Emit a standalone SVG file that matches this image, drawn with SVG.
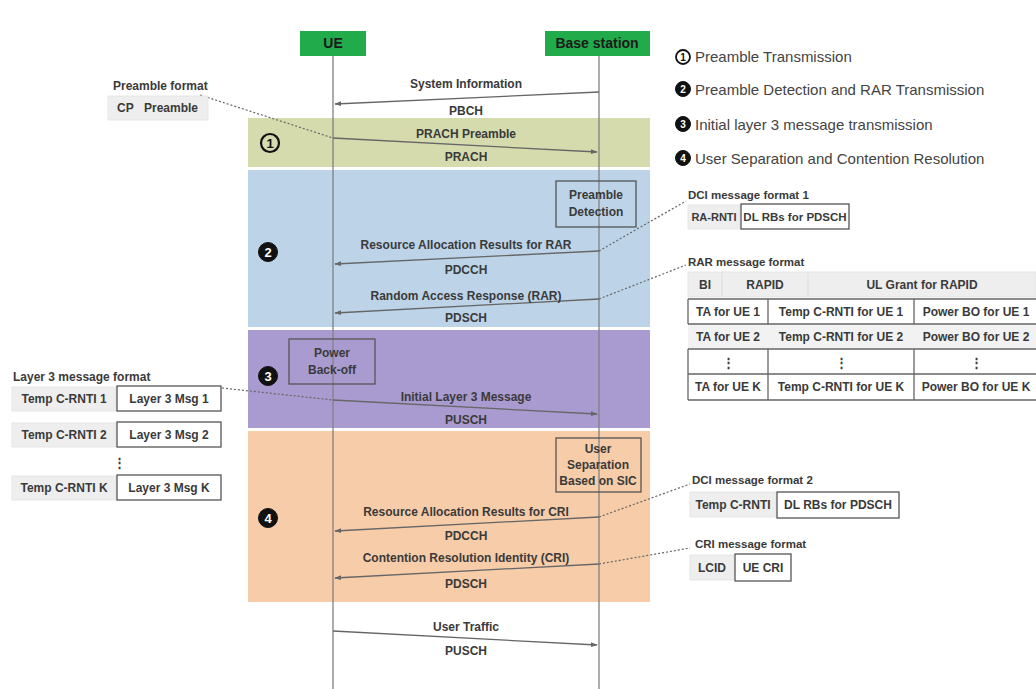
<svg xmlns="http://www.w3.org/2000/svg" width="1036" height="689" viewBox="0 0 1036 689">
<defs>
<marker id="ah" viewBox="0 0 10 10" refX="9" refY="5" markerWidth="7" markerHeight="7" orient="auto" markerUnits="userSpaceOnUse">
<path d="M0,1.5 L10,5 L0,8.5 z" fill="#666"/>
</marker>
<style>
text{font-family:"Liberation Sans",Arial,sans-serif;fill:#3a3a3a;}
.lb{font-size:12px;font-weight:bold;text-anchor:middle;}
.ll{font-size:12px;font-weight:bold;}
.leg{font-size:15px;fill:#444;}
.msg{stroke:#666;stroke-width:1.3;fill:none;marker-end:url(#ah);}
.dot{stroke:#666;stroke-width:1.2;fill:none;stroke-dasharray:2,2;}
.life{stroke:#808080;stroke-width:1.3;}
.gc{fill:#eeeeee;stroke:#e2e2e2;stroke-width:0.8;}
.bc{fill:#ffffff;stroke:#555;stroke-width:1.3;}
.proc{fill:none;stroke:#555;stroke-width:1.3;}
.cw{fill:none;stroke:#111;stroke-width:2.2;}
.cb{fill:#111;stroke:#111;stroke-width:1;}
.nw{font-size:13px;font-weight:bold;text-anchor:middle;fill:#111;}
.nb{font-size:13px;font-weight:bold;text-anchor:middle;fill:#fff;}
.hd{font-size:14px;font-weight:bold;text-anchor:middle;fill:#1a1a1a;}
</style>
</defs>
<rect width="1036" height="689" fill="#ffffff"/>

<g id="phases">
<rect x="248" y="118" width="402" height="49" fill="#d5dbad"/>
<rect x="248" y="170" width="402" height="157" fill="#bdd4e8"/>
<rect x="248" y="330" width="402" height="98" fill="#a99bcf"/>
<rect x="248" y="431" width="402" height="171" fill="#f7cca8"/>
<circle class="cw" cx="270" cy="143" r="9"/><text class="nw" x="270" y="148">1</text>
<circle class="cb" cx="268" cy="252" r="9.5"/><text class="nb" x="268" y="257">2</text>
<circle class="cb" cx="268" cy="376" r="9.5"/><text class="nb" x="268" y="381">3</text>
<circle class="cb" cx="268" cy="518" r="9.5"/><text class="nb" x="268" y="523">4</text>
</g>

<g id="ue">
<rect x="300" y="31" width="66" height="25" fill="#22ab4b"/>
<text class="hd" x="333" y="48">UE</text>
<line class="life" x1="333" y1="56" x2="333" y2="689"/>
</g>
<g id="bs">
<rect x="545" y="31" width="105" height="25" fill="#22ab4b"/>
<text class="hd" x="597" y="48">Base station</text>
<line class="life" x1="599" y1="56" x2="599" y2="689"/>
</g>

<g id="proc-detect">
<rect class="proc" x="556" y="181" width="80" height="46"/>
<text class="lb" x="596" y="199">Preamble</text>
<text class="lb" x="596" y="216">Detection</text>
</g>
<g id="proc-backoff">
<rect class="proc" x="289" y="339" width="86" height="45"/>
<text class="lb" x="332" y="357">Power</text>
<text class="lb" x="332" y="374">Back-off</text>
</g>
<g id="proc-sic">
<rect class="proc" x="556" y="438" width="85" height="54"/>
<text class="lb" x="598" y="453">User</text>
<text class="lb" x="598" y="469">Separation</text>
<text class="lb" x="598" y="485">Based on SIC</text>
</g>

<g id="connectors">
<path class="msg" d="M599,92 L335,104"/>
<path class="msg" d="M333,138 L597,152"/>
<path class="msg" d="M599,251 L335,264"/>
<path class="msg" d="M599,299 L335,313"/>
<path class="msg" d="M333,400 L597,414"/>
<path class="msg" d="M599,517 L335,531"/>
<path class="msg" d="M599,564 L335,578"/>
<path class="msg" d="M333,631 L597,645"/>
<path class="dot" d="M200,95 L333,138"/>
<path class="dot" d="M222,388 L333,400"/>
<path class="dot" d="M599,251 L686,201"/>
<path class="dot" d="M599,299 L686,265"/>
<path class="dot" d="M599,517 L690,484"/>
<path class="dot" d="M599,564 L690,548"/>
</g>

<g id="labels">
<text class="lb" x="466" y="88">System Information</text>
<text class="lb" x="466" y="115">PBCH</text>
<text class="lb" x="466" y="138">PRACH Preamble</text>
<text class="lb" x="466" y="161">PRACH</text>
<text class="lb" x="466" y="249">Resource Allocation Results for RAR</text>
<text class="lb" x="466" y="274">PDCCH</text>
<text class="lb" x="466" y="300">Random Access Response (RAR)</text>
<text class="lb" x="466" y="322">PDSCH</text>
<text class="lb" x="466" y="401">Initial Layer 3 Message</text>
<text class="lb" x="466" y="424">PUSCH</text>
<text class="lb" x="466" y="516">Resource Allocation Results for CRI</text>
<text class="lb" x="466" y="540">PDCCH</text>
<text class="lb" x="466" y="562">Contention Resolution Identity (CRI)</text>
<text class="lb" x="466" y="588">PDSCH</text>
<text class="lb" x="466" y="631">User Traffic</text>
<text class="lb" x="466" y="655">PUSCH</text>
</g>

<g id="legend">
<circle class="cw" cx="683" cy="57" r="7" style="stroke-width:1.8"/><text class="nw" x="683" y="61" style="font-size:10px">1</text>
<text class="leg" x="695" y="62">Preamble Transmission</text>
<circle class="cb" cx="683" cy="89" r="7.5"/><text class="nb" x="683" y="93" style="font-size:10px">2</text>
<text class="leg" x="695" y="95">Preamble Detection and RAR Transmission</text>
<circle class="cb" cx="683" cy="124" r="7.5"/><text class="nb" x="683" y="128" style="font-size:10px">3</text>
<text class="leg" x="695" y="130">Initial layer 3 message transmission</text>
<circle class="cb" cx="683" cy="158" r="7.5"/><text class="nb" x="683" y="162" style="font-size:10px">4</text>
<text class="leg" x="695" y="164">User Separation and Contention Resolution</text>
</g>

<g id="preamble-format">
<text class="ll" x="113" y="90">Preamble format</text>
<rect class="gc" x="108" y="96" width="100" height="24"/>
<text class="ll" x="117" y="112">CP</text>
<text class="ll" x="144" y="112">Preamble</text>
</g>

<g id="layer3-format">
<text class="ll" x="13" y="381">Layer 3 message format</text>
<rect class="gc" x="12" y="387" width="104" height="24"/>
<text class="lb" x="64" y="403">Temp C-RNTI 1</text>
<rect class="bc" x="117" y="386" width="104" height="25"/>
<text class="lb" x="169" y="403">Layer 3 Msg 1</text>
<rect class="gc" x="12" y="423" width="104" height="24"/>
<text class="lb" x="64" y="439">Temp C-RNTI 2</text>
<rect class="bc" x="117" y="422" width="104" height="25"/>
<text class="lb" x="169" y="439">Layer 3 Msg 2</text>
<text class="lb" x="119" y="467" style="font-size:13px">⋮</text>
<rect class="gc" x="12" y="476" width="104" height="24"/>
<text class="lb" x="64" y="492">Temp C-RNTI K</text>
<rect class="bc" x="117" y="475" width="104" height="25"/>
<text class="lb" x="169" y="492">Layer 3 Msg K</text>
</g>

<g id="dci1">
<text class="ll" x="688" y="199" style="font-size:11.5px">DCI message format 1</text>
<rect class="gc" x="688" y="205" width="52" height="24"/>
<text class="lb" x="714" y="221" style="font-size:11px">RA-RNTI</text>
<rect class="bc" x="741" y="204" width="108" height="25"/>
<text class="lb" x="795" y="221" style="font-size:11.5px">DL RBs for PDSCH</text>
</g>

<g id="rar-format">
<text class="ll" x="688" y="266" style="font-size:11.5px">RAR message format</text>
<rect class="gc" x="688" y="272" width="348" height="25"/>
<line x1="722" y1="272" x2="722" y2="297" stroke="#dcdcdc"/>
<line x1="808" y1="272" x2="808" y2="297" stroke="#dcdcdc"/>
<text class="lb" x="705" y="289">BI</text>
<text class="lb" x="765" y="289">RAPID</text>
<text class="lb" x="922" y="289">UL Grant for RAPID</text>
<rect x="688" y="324" width="348" height="25" fill="#f2f2f2"/>
<path d="M688,299 H1036 M688,324 H1036 M688,349 H1036 M688,374 H1036 M688,400 H1036 M688,299 V324 M768,299 V324 M914,299 V324 M688,349 V400 M768,349 V400 M914,349 V400" stroke="#666" stroke-width="1.3" fill="none"/>
<text class="lb" x="728" y="316">TA for UE 1</text>
<text class="lb" x="841" y="316">Temp C-RNTI for UE 1</text>
<text class="lb" x="976" y="316">Power BO for UE 1</text>
<text class="lb" x="728" y="341">TA for UE 2</text>
<text class="lb" x="841" y="341">Temp C-RNTI for UE 2</text>
<text class="lb" x="976" y="341">Power BO for UE 2</text>
<text class="lb" x="728" y="367" style="font-size:13px">⋮</text>
<text class="lb" x="841" y="367" style="font-size:13px">⋮</text>
<text class="lb" x="976" y="367" style="font-size:13px">⋮</text>
<text class="lb" x="728" y="391">TA for UE K</text>
<text class="lb" x="841" y="391">Temp C-RNTI for UE K</text>
<text class="lb" x="976" y="391">Power BO for UE K</text>
</g>

<g id="dci2">
<text class="ll" x="692" y="484" style="font-size:11.5px">DCI message format 2</text>
<rect class="gc" x="690" y="492" width="86" height="25"/>
<text class="lb" x="733" y="509">Temp C-RNTI</text>
<rect class="bc" x="777" y="492" width="122" height="26"/>
<text class="lb" x="838" y="509">DL RBs for PDSCH</text>
</g>

<g id="cri-format">
<text class="ll" x="695" y="548" style="font-size:11.5px">CRI message format</text>
<rect class="gc" x="690" y="555" width="44" height="25"/>
<text class="lb" x="712" y="572">LCID</text>
<rect class="bc" x="735" y="554" width="56" height="27"/>
<text class="lb" x="763" y="572">UE CRI</text>
</g>
</svg>
